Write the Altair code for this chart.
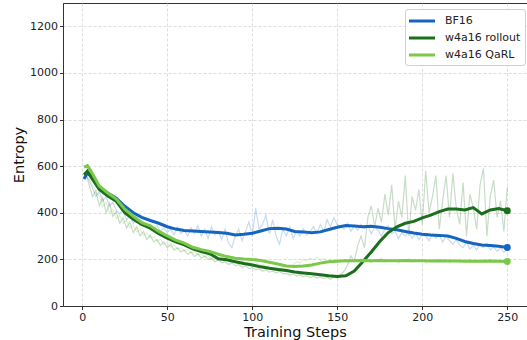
import altair as alt
import pandas as pd

SERIES = ["BF16", "w4a16 rollout", "w4a16 QaRL"]
COLORS = ["#1565c0", "#1b6e1b", "#7cc84a"]

X_TICKS = [0, 50, 100, 150, 200, 250]
Y_TICKS = [0, 200, 400, 600, 800, 1000, 1200]

# raw (noisy) values, steps 2, 4, ..., 250
RAW_STEPS = list(range(2, 251, 2))
BF16_RAW = [
    560, 540, 505, 470, 490, 450, 470, 430, 445, 410,
    395, 410, 370, 385, 355, 370, 345, 360, 340, 350,
    330, 345, 320, 335, 315, 330, 305, 340, 310, 325,
    300, 335, 310, 345, 300, 330, 290, 340, 305, 320,
    285, 330, 270, 250, 300, 330, 280, 320, 360, 300,
    420, 330, 350, 390, 310, 370, 300, 265, 330, 300,
    340, 290, 320, 300, 330, 305, 320, 340, 310, 350,
    320, 370, 340, 380, 350, 340, 330, 355, 320, 345,
    325, 350, 330, 345, 310, 340, 325, 300, 330, 345,
    310, 320, 290, 315, 300, 320, 290, 310, 285, 305,
    300, 280, 310, 290, 305, 275, 300, 280, 265, 285,
    260, 250, 275, 245, 260, 240, 265, 250, 270, 240,
    255, 235, 250, 230, 245,
]
ROLLOUT_RAW = [
    575, 520, 470, 495, 430, 465, 400, 440, 385, 405,
    355, 380, 335, 360, 315, 340, 300, 320, 285, 305,
    275, 285, 260, 275, 250, 265, 240, 250, 232, 240,
    222, 232, 212, 225, 205, 215, 200, 205, 190, 198,
    185, 190, 178, 185, 172, 178, 165, 172, 160, 165,
    155, 160, 150, 156, 145, 150, 142, 148, 138, 140,
    132, 138, 128, 134, 125, 130, 122, 128, 120, 126,
    118, 124, 115, 125, 120, 135, 150, 175, 215, 190,
    260, 300, 250, 380, 430, 340, 420, 360, 480, 390,
    520, 330, 450, 380, 560, 300, 470, 410, 500, 350,
    580, 400, 470, 560, 330, 450, 560, 380, 570, 420,
    350, 530, 300, 480, 420, 330, 520, 590, 300, 470,
    540, 380, 450, 320, 510,
]
QARL_RAW = [
    600, 555, 515, 490, 470, 425, 445, 400, 415, 375,
    390, 355, 368, 335, 348, 318, 330, 302, 315, 290,
    300, 278, 287, 265, 273, 252, 262, 243, 250, 236,
    243, 226, 235, 218, 225, 210, 218, 203, 210, 198,
    205, 193, 200, 188, 196, 186, 195, 183, 192, 180,
    188, 176, 182, 168, 175, 163, 170, 158, 165, 156,
    168, 175, 190, 185, 200, 195, 205, 198, 210, 195,
    205, 190, 200, 188, 198, 192, 200, 185, 195, 200,
    188, 205, 192, 198, 185, 200, 195, 205, 188, 198,
    192, 200, 186, 196, 190, 202, 188, 198, 192, 200,
    185, 195, 200, 188, 196, 192, 200, 186, 195, 190,
    198, 188, 195, 200, 190, 196, 188, 198, 192, 200,
    186, 195, 190, 198, 192,
]

# smoothed values, steps 1, 3, 5, 10, ..., 250
SMOOTH_STEPS = [1, 3] + list(range(5, 251, 5))
BF16_SMOOTH = [
    545, 572, 560, 510, 485, 463, 428, 400, 380, 367,
    355, 340, 330, 324, 322, 320, 318, 315, 312, 305,
    308, 312, 322, 332, 334, 330, 320, 318, 314, 318,
    328, 338, 345, 343, 340, 342, 338, 332, 327, 320,
    313, 308, 305, 303, 300, 290, 277, 268, 262, 260,
    256, 251,
]
ROLLOUT_SMOOTH = [
    563, 578, 555, 500, 472, 449, 400, 372, 350, 334,
    310, 291, 275, 262, 245, 234, 224, 203, 198, 190,
    182, 176, 168, 162, 157, 152, 146, 142, 138, 134,
    130, 127, 130, 150, 190, 232, 277, 315, 340, 355,
    363, 378, 390, 405, 416, 416, 412, 422, 395, 412,
    418, 409,
]
QARL_SMOOTH = [
    596, 602, 580, 515, 485, 459, 415, 385, 358, 344,
    320, 301, 283, 270, 252, 242, 234, 222, 212, 205,
    202, 200, 195, 188, 180, 172, 169, 172, 176, 184,
    190, 192, 194, 194, 195, 194, 195, 194, 194, 195,
    194, 194, 193, 194, 193, 193, 192, 192, 192, 193,
    192, 191,
]

raw_rows, smooth_rows, end_rows = [], [], []
for name, raw in zip(SERIES, [BF16_RAW, ROLLOUT_RAW, QARL_RAW]):
    for s, v in zip(RAW_STEPS, raw):
        raw_rows.append({"series": name, "step": s, "value": v})
smooth_map = dict(zip(SERIES, [BF16_SMOOTH, ROLLOUT_SMOOTH, QARL_SMOOTH]))
for name in SERIES:
    for s, v in zip(SMOOTH_STEPS, smooth_map[name]):
        smooth_rows.append({"series": name, "step": s, "value": v})
    end_rows.append({"series": name, "step": SMOOTH_STEPS[-1], "value": smooth_map[name][-1]})

raw_df = pd.DataFrame(raw_rows)
smooth_df = pd.DataFrame(smooth_rows)
end_df = pd.DataFrame(end_rows)

FONT = "DejaVu Sans"

x_enc = alt.X(
    "step:Q",
    scale=alt.Scale(domain=[-11.35, 261.6], nice=False, zero=False),
    axis=alt.Axis(values=X_TICKS, title="Training Steps", format="d", titlePadding=3),
)
y_enc = alt.Y(
    "value:Q",
    scale=alt.Scale(domain=[0, 1300], nice=False),
    axis=alt.Axis(values=Y_TICKS, title="Entropy", format="d", titlePadding=3),
)

raw_color = alt.Color("series:N", scale=alt.Scale(domain=SERIES, range=COLORS), legend=None)

raw_layer = alt.Chart(raw_df).mark_line(strokeWidth=1.2, opacity=0.24).encode(
    x=x_enc, y=y_enc, color=raw_color
)

legend = alt.Legend(
    orient="none", legendX=342, legendY=6, title=None,
    symbolType="M-2,0H2", symbolSize=169, symbolStrokeWidth=3,
    symbolOffset=5, labelOffset=15, rowPadding=3,
    labelFontSize=11, labelFont=FONT, labelColor="#222",
    padding=4, strokeColor="#d0d0d0", fillColor="white", cornerRadius=3,
)
main_color = alt.Color("series:N", scale=alt.Scale(domain=SERIES, range=COLORS), legend=legend)

smooth_layers = []
for i, name in enumerate(SERIES):
    smooth_layers.append(
        alt.Chart(smooth_df[smooth_df.series == name]).mark_line(strokeWidth=3).encode(
            x=x_enc, y=y_enc, color=main_color
        )
    )

dots = alt.Chart(end_df).mark_circle(size=48, opacity=1).encode(
    x=x_enc, y=y_enc, color=alt.Color("series:N", scale=alt.Scale(domain=SERIES, range=COLORS), legend=None)
)

chart = alt.layer(raw_layer, *smooth_layers, dots).resolve_scale(color="independent").properties(
    width=464, height=303,
    autosize=alt.AutoSizeParams(type="none"),
    padding={"left": 63, "top": 3, "right": 0, "bottom": 34},
).configure_view(stroke="#333", strokeWidth=1).configure_axis(
    labelFont=FONT, titleFont=FONT, labelFontSize=11, titleFontSize=14.5,
    titleFontWeight="normal", labelColor="#222", titleColor="#111",
    domainColor="#333", tickColor="#333", tickSize=3.5, labelPadding=2,
    gridColor="#d4d4d4", gridDash=[3, 2], gridWidth=0.8,
)

chart.save("out.html", embed_options={"renderer": "svg", "actions": False})
